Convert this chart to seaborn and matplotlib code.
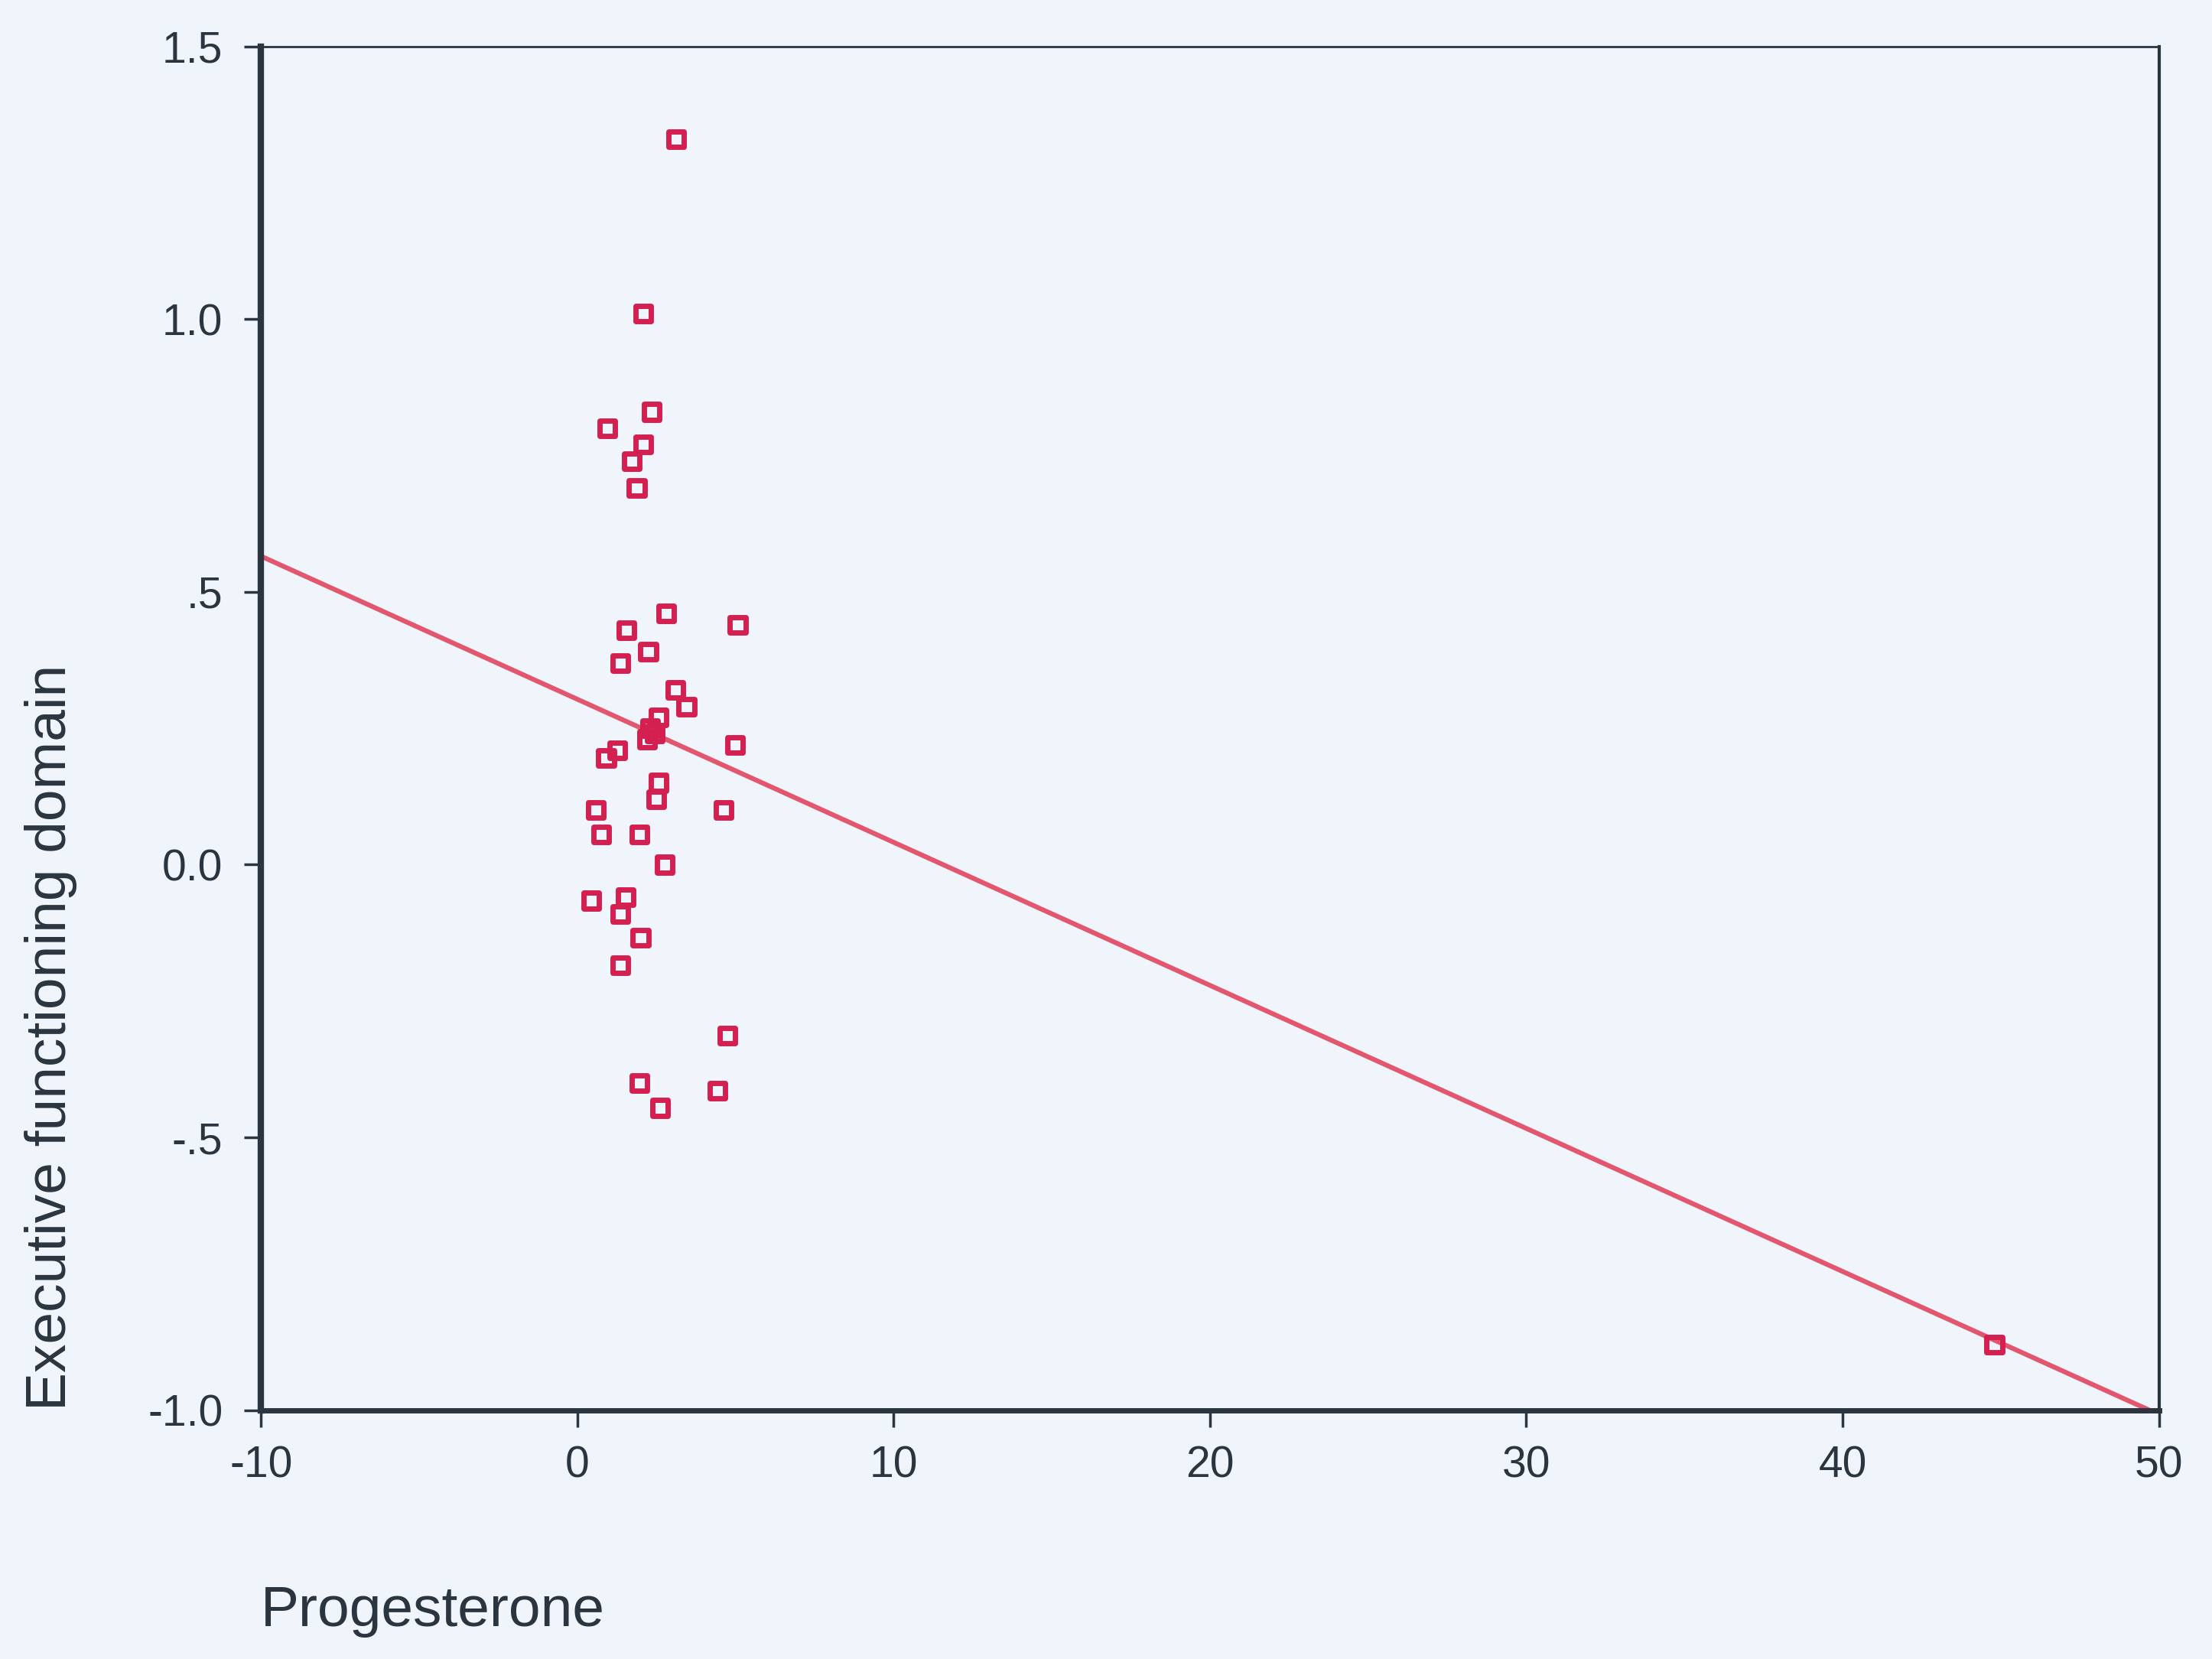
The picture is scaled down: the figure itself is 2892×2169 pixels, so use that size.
import numpy as np
import pandas as pd
import seaborn as sns
import matplotlib
matplotlib.use("Agg")
import matplotlib.pyplot as plt

# valores
progesterone = [3.13, 2.08, 2.36, 0.95, 2.08, 1.72, 1.88,
                2.81, 5.07, 1.56, 2.24, 1.36, 3.09, 3.45, 2.57,
                2.30, 2.45, 2.20, 1.27, 0.91, 4.99, 2.57, 2.49,
                0.59, 4.62, 0.75, 1.96, 2.77, 0.43, 1.52, 1.36,
                2.00, 1.36, 4.74, 1.96, 4.42, 2.61, 44.8]
executive = [1.33, 1.01, 0.83, 0.80, 0.77, 0.74, 0.69,
             0.46, 0.44, 0.43, 0.39, 0.37, 0.32, 0.29, 0.27,
             0.25, 0.24, 0.23, 0.21, 0.195, 0.22, 0.15, 0.12,
             0.10, 0.10, 0.055, 0.055, 0.0, -0.066, -0.06, -0.09,
             -0.134, -0.184, -0.313, -0.40, -0.414, -0.446, -0.88]

x_ticks = [-10, 0, 10, 20, 30, 40, 50]
x_labels = ["-10", "0", "10", "20", "30", "40", "50"]
y_ticks = [1.5, 1.0, 0.5, 0.0, -0.5, -1.0]
y_labels = ["1.5", "1.0", ".5", "0.0", "-.5", "-1.0"]

df = pd.DataFrame({"Progesterone": progesterone, "Executive": executive})

sns.set_theme(style="ticks")
plt.rcParams["font.family"] = ["Liberation Sans", "DejaVu Sans"]

fondo = "#eff5fb"
tinta = "#2a3540"
rojo = "#d42050"
rojo_linea = "#e2566e"

fig = plt.figure(figsize=(28.92, 21.69), dpi=100, facecolor=fondo)
ax = fig.add_axes([0.118, 0.150, 0.858, 0.822])
ax.set_facecolor(fondo)

ax.set_xlim(-10, 50)
ax.set_ylim(-1.0, 1.5)

# linea de ajuste (se extiende por todo el eje)
sns.regplot(data=df, x="Progesterone", y="Executive", ax=ax, scatter=False,
            ci=None, truncate=False, color=rojo_linea, line_kws={"linewidth": 4.5})

# puntos: cuadrados huecos
sns.scatterplot(data=df, x="Progesterone", y="Executive", ax=ax, marker="s",
                s=210, facecolor="none", edgecolor=rojo, linewidth=5, zorder=3)

ax.set_xlim(-10, 50)
ax.set_ylim(-1.0, 1.5)
ax.set_xticks(x_ticks, x_labels)
ax.set_yticks(y_ticks, y_labels)

for lado, ancho in [("left", 6), ("bottom", 5), ("top", 2), ("right", 3)]:
    ax.spines[lado].set_visible(True)
    ax.spines[lado].set_color(tinta)
    ax.spines[lado].set_linewidth(ancho)

ax.tick_params(axis="both", direction="out", length=16, width=2.5,
               colors=tinta, labelsize=41)
ax.tick_params(axis="y", pad=20)
ax.tick_params(axis="x", pad=17)

ax.set_xlabel("Progesterone", fontsize=54, color=tinta, loc="left")
ax.set_ylabel("Executive functioning domain", fontsize=54, color=tinta, loc="bottom")
ax.xaxis.set_label_coords(0.0, -0.128)
ax.yaxis.set_label_coords(-0.097, 0.0)

fig.savefig("out.png", dpi=100, facecolor=fondo)
